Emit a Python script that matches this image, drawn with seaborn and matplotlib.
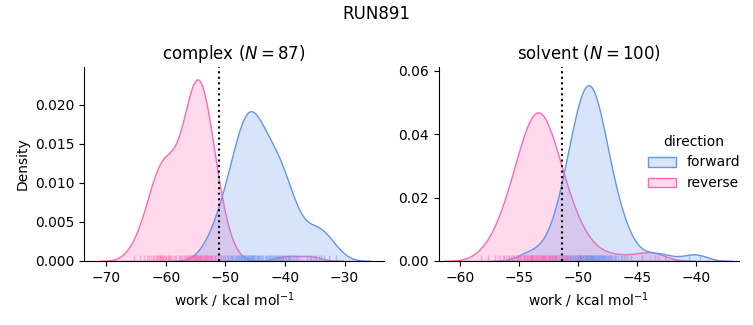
import matplotlib
matplotlib.use("Agg")
import matplotlib.pyplot as plt
import numpy as np
import pandas as pd
import seaborn as sns

run_name = "RUN891"
phases = ["complex", "solvent"]
directions = ["forward", "reverse"]
colors = ["cornflowerblue", "hotpink"]
xlabel = "work / kcal mol$^{-1}$"
ylabel = "Density"

complex_forward = [
    -53.2, -52.4, -51.7, -51.1, -50.8, -50.4, -50.1,
    -49.8, -49.5, -49.3, -49.05,
    -48.9, -48.7, -48.4, -48.2, -48.05,
    -47.9, -47.75, -47.6, -47.45, -47.3, -47.15, -47.0,
    -46.95, -46.8, -46.7, -46.5, -46.4, -46.3, -46.2, -46.15, -46.05,
    -45.9, -45.8, -45.7, -45.6, -45.5, -45.4, -45.3, -45.2, -45.05,
    -44.9, -44.75, -44.6, -44.45, -44.3, -44.15, -44.05,
    -43.85, -43.6, -43.4, -43.2, -43.05,
    -42.9, -42.7, -42.55, -42.4, -42.2, -42.05,
    -41.9, -41.7, -41.5, -41.35, -41.2, -41.05,
    -40.85, -40.6, -40.45, -40.25, -40.1,
    -39.8, -39.55, -39.3, -39.1,
    -38.8, -38.5, -38.2,
    -37.8, -36.3, -35.6, -35.2, -34.8, -34.3, -33.9, -33.4, -32.6, -31.5,
]
complex_reverse = [
    -65.4, -64.3, -63.7, -63.2, -62.8, -62.4, -62.1,
    -61.9, -61.7, -61.5, -61.3, -61.1, -61.0,
    -60.9, -60.75, -60.6, -60.4, -60.25, -60.1,
    -59.9, -59.7, -59.55, -59.4, -59.2, -59.05,
    -58.8, -58.5, -58.2, -57.8, -57.6, -57.5, -57.2,
    -56.9, -56.75, -56.6, -56.45, -56.3, -56.2, -56.05,
    -55.95, -55.85, -55.75, -55.65, -55.55, -55.45, -55.35, -55.25, -55.15,
    -55.05, -55.02,
    -54.95, -54.85, -54.75, -54.7, -54.65, -54.55, -54.5, -54.4, -54.3, -54.2, -54.15, -54.05, -54.0,
    -53.9, -53.8, -53.65, -53.5, -53.4, -53.3, -53.2, -53.1, -53.0,
    -52.9, -52.8, -52.7, -52.55, -52.4, -52.2, -52.05,
    -51.8, -51.5, -51.2, -50.7, -50.3, -49.6,
    -39.8, -35.8,
]
solvent_forward = [
    -54.6, -53.9, -53.1,
    -52.5, -52.2, -51.95, -51.8,
    -51.6, -51.45, -51.3, -51.25, -51.1, -51.0, -50.95, -50.85, -50.8, -50.72,
    -50.68, -50.6, -50.5, -50.45, -50.4, -50.3, -50.25, -50.2, -50.1, -50.05,
    -50.0, -49.95, -49.9, -49.88, -49.85, -49.8, -49.77, -49.75, -49.72,
    -49.68, -49.6, -49.55, -49.5, -49.45, -49.4, -49.35, -49.3, -49.25, -49.22,
    -49.2, -49.15, -49.1, -49.05, -49.0, -48.98, -48.95, -48.9, -48.88, -48.85,
    -48.8, -48.78, -48.75, -48.72,
    -48.68, -48.62, -48.58, -48.5, -48.45, -48.4, -48.35, -48.3, -48.25, -48.2,
    -48.15, -48.1, -48.05, -48.0, -47.95, -47.9, -47.85, -47.8, -47.75,
    -47.65, -47.55, -47.45, -47.4, -47.3, -47.2, -47.1, -47.0, -46.9, -46.75,
    -46.6, -46.4, -46.3, -46.05, -45.9, -45.5,
    -44.6, -43.5, -42.6, -40.6, -39.7,
]
solvent_reverse = [
    -58.2, -57.6, -57.0,
    -56.8, -56.6, -56.4, -56.3, -56.1, -55.95,
    -55.85, -55.7, -55.6, -55.5, -55.4, -55.3, -55.2, -55.15, -55.05, -54.98, -54.92,
    -54.85, -54.8, -54.7, -54.62, -54.55, -54.5, -54.42, -54.35, -54.3, -54.25,
    -54.18, -54.1, -54.05, -54.0, -53.97, -53.94, -53.91, -53.9,
    -53.88, -53.8, -53.75, -53.68, -53.6, -53.55, -53.5, -53.45, -53.4, -53.35,
    -53.3, -53.25, -53.2, -53.15, -53.1, -53.05, -53.0, -52.95, -52.92, -52.9,
    -52.88, -52.8, -52.75, -52.7, -52.62, -52.55, -52.5, -52.42, -52.35, -52.3,
    -52.22, -52.15, -52.1, -52.05, -52.0, -51.95, -51.92,
    -51.85, -51.75, -51.6, -51.5, -51.4, -51.3, -51.2, -51.1, -51.05, -50.98, -50.92,
    -50.8, -50.45, -50.3, -50.1, -49.95,
    -49.7, -49.4, -49.0, -48.4,
    -47.3, -46.1, -44.6, -43.9, -43.2,
]
estimates = [-51.0, -51.35]
xlims = [(-73.7, -23.4), (-61.8, -36.4)]
ylims = [(0, 0.0248), (0, 0.0612)]

frames = []
for phase, fwd, rev in [("complex", complex_forward, complex_reverse),
                        ("solvent", solvent_forward, solvent_reverse)]:
    frames.append(pd.DataFrame({"work": fwd, "direction": "forward", "phase": phase}))
    frames.append(pd.DataFrame({"work": rev, "direction": "reverse", "phase": phase}))
df = pd.concat(frames, ignore_index=True)

counts = {p: len(df[(df.phase == p) & (df.direction == "forward")]) for p in phases}

g = sns.displot(
    data=df, x="work", hue="direction", col="phase", kind="kde",
    fill=True, rug=True, hue_order=directions, col_order=phases,
    palette=dict(zip(directions, colors)),
    rug_kws=dict(alpha=0.45, height=0.03),
    facet_kws=dict(sharex=False, sharey=False), height=3, aspect=1.1,
)
g.set_axis_labels(xlabel, ylabel)
for ax, phase, est, xl, yl in zip(g.axes.flat, phases, estimates, xlims, ylims):
    ax.set_title(f"{phase} ($N = {counts[phase]}$)", fontsize=12)
    ax.axvline(est, color="black", linestyle=":", linewidth=1.5)
    ax.set_xlim(*xl)
    ax.set_ylim(*yl)

g.figure.set_size_inches(7.53, 3.25)
g.figure.subplots_adjust(left=0.1116, right=0.981, bottom=0.197, top=0.794, wspace=0.183)
g.figure.suptitle(run_name, fontsize=12, y=0.985)
g.figure.savefig("out.png", dpi=100)
